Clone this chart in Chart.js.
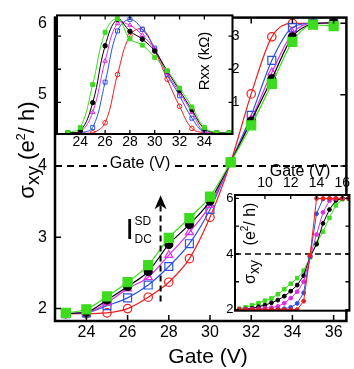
<!DOCTYPE html>
<html><head><meta charset="utf-8">
<script src="https://cdn.jsdelivr.net/npm/chart.js@4.4.1/dist/chart.umd.min.js"></script>
<style>
html,body{margin:0;padding:0;background:#fff;}
#wrap{position:relative;width:354px;height:369px;overflow:hidden;background:#fff;}
canvas{position:absolute;}
</style></head><body>
<div id="wrap">
<canvas id="main" width="354" height="369" style="left:0;top:0;width:354px;height:369px"></canvas>
<canvas id="rxx" width="240" height="175" style="left:0;top:0;width:240px;height:175px"></canvas>
<canvas id="narrow" width="139" height="170" style="left:215px;top:150px;width:139px;height:170px"></canvas>
</div>
<script>
// ---------- DATA ----------
// Main panel: sigma_xy (e^2/h) vs Gate (V), five DC bias currents
const mainGate    = [23, 24, 25, 26, 27, 28, 29, 30, 31, 32, 33, 34, 35, 36];
const mainRed     = [1.93, 1.93, 1.94, 2.00, 2.16, 2.37, 2.70, 3.28, 4.05, 5.01, 5.81, 6.00, 6.00, 6.00];
const mainBlue    = [1.93, 1.94, 2.04, 2.15, 2.33, 2.59, 2.91, 3.39, 4.05, 4.71, 5.48, 5.94, 6.00, 6.00];
const mainMagenta = [1.93, 1.94, 2.08, 2.28, 2.44, 2.75, 3.07, 3.45, 4.05, 4.65, 5.31, 5.86, 6.00, 6.00];
const mainBlack   = [1.93, 1.95, 2.12, 2.31, 2.52, 2.90, 3.18, 3.51, 4.05, 4.63, 5.22, 5.81, 5.99, 6.01];
const mainGreen   = [1.94, 1.99, 2.17, 2.37, 2.61, 2.99, 3.27, 3.57, 4.05, 4.57, 5.15, 5.74, 5.98, 5.96];
const mainXTicks = [24, 26, 28, 30, 32, 34, 36];
const mainYTicks = [2, 3, 4, 5, 6];

// Inset (top-left): Rxx (kOhm) vs Gate (V)
const rxxGate    = [23, 24, 25, 26, 27, 28, 29, 30, 31, 32, 33, 34, 35, 36];
const rxxRed     = [0.08, 0.08, 0.08, 0.38, 1.84, 3.02, 3.21, 2.57, 1.70, 0.88, 0.21, 0.08, 0.08, 0.08];
const rxxBlue    = [0.08, 0.08, 0.24, 1.61, 3.16, 3.51, 3.21, 2.64, 1.84, 1.20, 0.52, 0.08, 0.08, 0.08];
const rxxMagenta = [0.08, 0.10, 0.70, 2.25, 3.39, 3.33, 3.03, 2.60, 1.88, 1.29, 0.70, 0.10, 0.08, 0.08];
const rxxBlack   = [0.08, 0.13, 0.99, 2.71, 3.51, 3.15, 2.91, 2.55, 1.95, 1.36, 0.77, 0.20, 0.08, 0.08];
const rxxGreen   = [0.08, 0.24, 1.54, 3.12, 3.53, 2.92, 2.73, 2.36, 1.96, 1.43, 0.86, 0.24, 0.08, 0.08];
const rxxXTicks = [24, 26, 28, 30, 32, 34];
const rxxYTicks = [1, 2, 3];

// Inset (bottom-right): sigma_xy vs Gate (V), narrower device
const nGate    = [8, 8.5, 9, 9.5, 10, 10.5, 11, 11.5, 12, 12.5, 13, 13.5, 14, 14.5, 15, 15.5, 16, 16.5];
const nRed     = [2.00, 2.00, 2.00, 2.00, 2.00, 2.00, 2.00, 2.00, 2.00, 2.00, 2.30, 3.95, 6.00, 6.00, 6.00, 6.00, 6.00, 6.00];
const nBlue    = [2.00, 2.00, 2.00, 2.00, 2.00, 2.00, 2.01, 2.03, 2.08, 2.22, 2.60, 3.92, 5.45, 5.98, 6.00, 6.00, 6.00, 6.00];
const nMagenta = [2.00, 2.01, 2.02, 2.03, 2.05, 2.07, 2.11, 2.23, 2.41, 2.64, 3.00, 3.90, 4.70, 5.50, 5.92, 6.00, 6.00, 6.00];
const nBlack   = [2.00, 2.02, 2.05, 2.10, 2.16, 2.24, 2.34, 2.48, 2.66, 2.88, 3.22, 3.90, 4.35, 5.10, 5.60, 5.93, 6.00, 6.00];
const nGreen   = [2.03, 2.08, 2.15, 2.23, 2.32, 2.40, 2.55, 2.73, 2.93, 3.13, 3.40, 3.88, 4.40, 4.80, 5.30, 5.75, 5.97, 6.00];
const nXTicks = [10, 12, 14, 16];
const nYTicks = [2, 3, 4, 5, 6];

// ---------- STYLE ----------
const FAM = "'Liberation Sans', Arial, Helvetica, sans-serif";
Chart.defaults.font.family = FAM;
Chart.defaults.color = '#000';
const RED = '#ee1c1c', BLUE = '#2a52e8', MAGENTA = '#e22ee2', BLACK = '#000000', GREEN = '#3ddc1e';

function ds(label, xs, ys, color, style, radius, filled, order, extra) {
  return Object.assign({
    label, data: xs.map((x, i) => ({x: x, y: ys[i]})),
    borderColor: color, backgroundColor: color,
    pointStyle: style, pointRadius: radius, pointHoverRadius: radius,
    pointBackgroundColor: filled ? color : 'rgba(0,0,0,0)',
    pointBorderColor: color, pointBorderWidth: 1.2,
    borderWidth: 1.2, order: order, fill: false
  }, extra || {});
}
const setTicks = arr => (s) => { s.ticks = arr.map(v => ({value: v})); };

function drawRich(ctx, parts, cx, cy, rot, baseSize) {
  ctx.save();
  ctx.translate(cx, cy);
  ctx.rotate(rot);
  let total = 0;
  parts.forEach(p => { ctx.font = p.size + 'px ' + FAM; p.w = ctx.measureText(p.t).width; total += p.w; });
  let x = -total / 2;
  const base = baseSize * 0.36;
  ctx.fillStyle = '#000';
  ctx.textAlign = 'left';
  ctx.textBaseline = 'alphabetic';
  parts.forEach(p => { ctx.font = p.size + 'px ' + FAM; ctx.fillText(p.t, x, base + (p.dy || 0)); x += p.w; });
  ctx.restore();
  return total;
}

// ---------- PLUGINS ----------
const frameTicks = {
  id: 'frameTicks',
  afterDraw(chart, args, o) {
    const {ctx, chartArea: a} = chart;
    const xs = chart.scales.x, ys = chart.scales.y;
    ctx.save();
    ctx.strokeStyle = '#000';
    ctx.lineWidth = o.tickW;
    ctx.beginPath();
    xs.ticks.forEach(t => {
      const p = xs.getPixelForValue(t.value);
      if (o.xSides.includes('bottom')) { ctx.moveTo(p, a.bottom); ctx.lineTo(p, a.bottom - o.len); }
      if (o.xSides.includes('top')) { ctx.moveTo(p, a.top); ctx.lineTo(p, a.top + o.len); }
    });
    ys.ticks.forEach(t => {
      const p = ys.getPixelForValue(t.value);
      if (o.ySides.includes('left')) { ctx.moveTo(a.left, p); ctx.lineTo(a.left + o.len, p); }
      if (o.ySides.includes('right')) { ctx.moveTo(a.right, p); ctx.lineTo(a.right - o.len, p); }
    });
    ctx.stroke();
    ctx.lineWidth = o.frameW;
    ctx.strokeRect(a.left, a.top, a.right - a.left, a.bottom - a.top);
    ctx.restore();
  }
};

const refLine = {
  id: 'refLine',
  beforeDatasetsDraw(chart, args, o) {
    const {ctx, chartArea: a} = chart;
    const y = chart.scales.y.getPixelForValue(o.value);
    ctx.save();
    ctx.strokeStyle = '#000';
    ctx.lineWidth = o.width;
    ctx.setLineDash(o.dash);
    ctx.beginPath();
    ctx.moveTo(a.left, y); ctx.lineTo(a.right, y);
    ctx.stroke();
    ctx.restore();
  }
};

// white plot background + optional axis title drawn on a white box
const whiteBg = {
  id: 'whiteBg',
  beforeDraw(chart, args, o) {
    const {ctx, chartArea: a} = chart;
    ctx.save();
    ctx.fillStyle = '#fff';
    ctx.fillRect(a.left, a.top, a.right - a.left, a.bottom - a.top);
    if (o.title) {
      ctx.font = o.title.size + 'px ' + FAM;
      const w = ctx.measureText(o.title.text).width;
      if (o.title.box) {
        ctx.fillRect(o.title.x - w / 2 - 3, o.title.y - o.title.size * 0.55, w + 6, o.title.size * 1.1);
      }
      drawRich(ctx, [{t: o.title.text, size: o.title.size}], o.title.x, o.title.y, 0, o.title.size);
    }
    ctx.restore();
  }
};

const mainDecor = {
  id: 'mainDecor',
  afterDraw(chart) {
    const {ctx} = chart;
    const xs = chart.scales.x, ys = chart.scales.y;
    // axis titles
    drawRich(ctx, [{t: 'Gate (V)', size: 21}], 208, 355, 0, 21);
    drawRich(ctx, [
      {t: 'σ', size: 22}, {t: 'xy', size: 19, dy: 5}, {t: ' (e', size: 22},
      {t: '2', size: 13, dy: -9}, {t: '/ h)', size: 22}
    ], 26, 150, -Math.PI / 2, 22);
    // dashed arrow (I_DC sweep direction)
    const ax = xs.getPixelForValue(27.6);
    const y0 = ys.getPixelForValue(2.1), y1 = ys.getPixelForValue(3.59);
    ctx.save();
    ctx.strokeStyle = '#000'; ctx.fillStyle = '#000';
    ctx.lineWidth = 2; ctx.setLineDash([6, 4]);
    ctx.beginPath(); ctx.moveTo(ax, y0); ctx.lineTo(ax, y1 + 10); ctx.stroke();
    ctx.setLineDash([]);
    ctx.beginPath();
    ctx.moveTo(ax, y1); ctx.lineTo(ax + 6, y1 + 14); ctx.lineTo(ax, y1 + 10); ctx.lineTo(ax - 6, y1 + 14);
    ctx.closePath(); ctx.fill();
    // I_DC^SD label
    const lx = xs.getPixelForValue(25.9), ly = ys.getPixelForValue(2.98);
    ctx.textAlign = 'left'; ctx.textBaseline = 'alphabetic';
    ctx.font = '30px ' + FAM; ctx.fillText('I', lx, ly);
    ctx.font = '12px ' + FAM;
    ctx.fillText('SD', lx + 9, ly - 14);
    ctx.fillText('DC', lx + 9, ly + 4);
    ctx.restore();
  }
};

const rxxDecor = {
  id: 'rxxDecor',
  afterDraw(chart) {
    drawRich(chart.ctx, [{t: 'Rxx (kΩ)', size: 15}], 203.5, 61, -Math.PI / 2, 15);
  }
};

const nDecor = {
  id: 'nDecor',
  afterDraw(chart) {
    const ctx = chart.ctx;
    drawRich(ctx, [{t: '(e', size: 16}, {t: '2', size: 10, dy: -7}, {t: '/ h)', size: 16}], 34, 74, -Math.PI / 2, 16);
    drawRich(ctx, [{t: 'σ', size: 16}, {t: 'xy', size: 14, dy: 4}], 34, 122, -Math.PI / 2, 16);
  }
};

const common = {responsive: false, animation: false, devicePixelRatio: 1, events: []};
const noGrid = {display: false, drawTicks: false};

// ---------- MAIN CHART ----------
const mainLine = {cubicInterpolationMode: 'monotone'};
new Chart(document.getElementById('main'), {
  type: 'line',
  data: {datasets: [
    ds('I5', mainGate, mainGreen, GREEN, 'rect', 6.4, true, 0, mainLine),
    ds('I4', mainGate, mainBlack, BLACK, 'circle', 4, true, 1, mainLine),
    ds('I3', mainGate, mainMagenta, MAGENTA, 'triangle', 4.6, false, 2, mainLine),
    ds('I2', mainGate, mainBlue, BLUE, 'rect', 5.6, false, 3, mainLine),
    ds('I1', mainGate, mainRed, RED, 'circle', 4.2, false, 4, mainLine)
  ]},
  options: Object.assign({}, common, {
    layout: {padding: {left: 0, right: 2, top: 3, bottom: 0}},
    plugins: {
      legend: {display: false}, tooltip: {enabled: false},
      frameTicks: {len: 6, tickW: 1.5, frameW: 2.5, xSides: ['bottom', 'top'], ySides: ['left', 'right']},
      refLine: {value: 4, width: 2, dash: [7, 5]}
    },
    scales: {
      x: {
        type: 'linear', min: 22.476, max: 36.62,
        afterBuildTicks: setTicks(mainXTicks),
        afterFit: s => { s.height = 48; },
        grid: noGrid, border: {display: false},
        ticks: {font: {size: 16}, padding: 2, color: '#000'}
      },
      y: {
        type: 'linear', min: 1.826, max: 6.08,
        afterBuildTicks: setTicks(mainYTicks),
        afterFit: s => { s.width = 55; },
        grid: noGrid, border: {display: false},
        ticks: {font: {size: 16}, padding: 8, color: '#000'}
      }
    }
  }),
  plugins: [frameTicks, refLine, mainDecor]
});

// ---------- INSET: Rxx ----------
const smooth = {tension: 0.4, borderWidth: 1, pointBorderWidth: 1};
new Chart(document.getElementById('rxx'), {
  type: 'line',
  data: {datasets: [
    ds('I5', rxxGate, rxxGreen, GREEN, 'rect', 2.8, true, 0, smooth),
    ds('I4', rxxGate, rxxBlack, BLACK, 'circle', 2.2, true, 1, smooth),
    ds('I3', rxxGate, rxxMagenta, MAGENTA, 'triangle', 2.6, false, 2, smooth),
    ds('I2', rxxGate, rxxBlue, BLUE, 'rect', 2.8, false, 3, smooth),
    ds('I1', rxxGate, rxxRed, RED, 'circle', 2.3, false, 4, smooth)
  ]},
  options: Object.assign({}, common, {
    layout: {padding: {left: 57, right: 7.5, top: 3, bottom: 0}},
    plugins: {
      legend: {display: false}, tooltip: {enabled: false},
      frameTicks: {len: 4, tickW: 1.3, frameW: 2, xSides: ['bottom', 'top'], ySides: ['left', 'right']},
      whiteBg: {title: {text: 'Gate (V)', size: 16, x: 140, y: 162, box: true}}
    },
    scales: {
      x: {
        type: 'linear', min: 22.12, max: 36.27,
        afterBuildTicks: setTicks(rxxXTicks),
        afterFit: s => { s.height = 41; },
        grid: noGrid, border: {display: false},
        ticks: {font: {size: 14}, padding: 0, color: '#000'}
      },
      y: {
        type: 'linear', position: 'right', min: 0.041, max: 3.63,
        afterBuildTicks: setTicks(rxxYTicks),
        afterFit: s => { s.width = 0; },
        grid: noGrid, border: {display: false},
        ticks: {font: {size: 14}, padding: 7, mirror: true, color: '#000'}
      }
    }
  }),
  plugins: [whiteBg, frameTicks, rxxDecor]
});

// ---------- INSET: narrow sample sigma_xy ----------
const straight = {tension: 0, borderWidth: 1, pointBorderWidth: 1};
new Chart(document.getElementById('narrow'), {
  type: 'line',
  data: {datasets: [
    ds('I1', nGate, nRed, RED, 'circle', 1.9, true, 0, straight),
    ds('I2', nGate, nBlue, BLUE, 'circle', 1.9, true, 1, straight),
    ds('I3', nGate, nMagenta, MAGENTA, 'circle', 1.9, true, 2, straight),
    ds('I4', nGate, nBlack, BLACK, 'circle', 1.9, true, 3, straight),
    ds('I5', nGate, nGreen, GREEN, 'rect', 2.5, true, 4, straight)
  ]},
  options: Object.assign({}, common, {
    layout: {padding: {left: 0, right: 4.5, top: 0, bottom: 7.3}},
    plugins: {
      legend: {display: false}, tooltip: {enabled: false},
      frameTicks: {len: 4, tickW: 1.3, frameW: 2, xSides: ['top'], ySides: ['left', 'right']},
      refLine: {value: 4, width: 1.6, dash: [6, 4]},
      whiteBg: {title: {text: 'Gate (V)', size: 16, x: 85, y: 20, box: false}}
    },
    scales: {
      x: {
        type: 'linear', position: 'top', min: 7.68, max: 16.55,
        afterBuildTicks: setTicks(nXTicks),
        afterFit: s => { s.height = 45; },
        grid: noGrid, border: {display: false},
        ticks: {font: {size: 14}, padding: 3.6, color: '#000'}
      },
      y: {
        type: 'linear', position: 'left', min: 1.958, max: 6.124,
        afterBuildTicks: setTicks(nYTicks),
        afterFit: s => { s.width = 20; },
        grid: noGrid, border: {display: false},
        ticks: {font: {size: 13}, padding: 1.5, color: '#000', callback: v => (v % 2 === 0 ? String(v) : '')}
      }
    }
  }),
  plugins: [whiteBg, frameTicks, refLine, nDecor]
});
</script>
</body></html>
